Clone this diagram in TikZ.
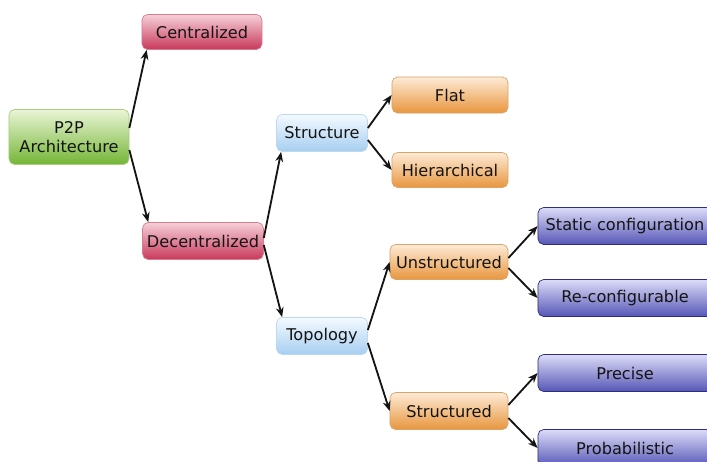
\documentclass[tikz,border=0pt]{standalone}
\usepackage{fontspec}
\setmainfont{DejaVu Sans}
\usepackage{tikz}
\usetikzlibrary{calc, arrows.meta}

\definecolor{greenTop}{HTML}{EAF5D6}
\definecolor{greenBot}{HTML}{74B536}
\definecolor{greenLine}{HTML}{A9CC80}
\definecolor{redTop}{HTML}{F6D0D8}
\definecolor{redBot}{HTML}{C8385A}
\definecolor{redLine}{HTML}{D87C90}
\definecolor{skyTop}{HTML}{F4FAFF}
\definecolor{skyBot}{HTML}{A6CEF0}
\definecolor{skyLine}{HTML}{BCD9F0}
\definecolor{orangeTop}{HTML}{FDEBD6}
\definecolor{orangeBot}{HTML}{E8963E}
\definecolor{orangeLine}{HTML}{D9A468}
\definecolor{purpleTop}{HTML}{DCDCF8}
\definecolor{purpleBot}{HTML}{5656B6}
\definecolor{purpleLine}{HTML}{2E2E80}

\begin{document}
\begin{tikzpicture}[x=0.025cm, y=-0.025cm,
        box/.style={rounded corners=4pt, line width=0.5pt, align=center,
            text=black!92, inner sep=0pt,
            font=\fontsize{11.5}{14}\selectfont},
        rootbox/.style={box, draw=greenLine, top color=greenTop, bottom color=greenBot},
        modebox/.style={box, draw=redLine, top color=redTop, bottom color=redBot},
        aspectbox/.style={box, draw=skyLine, top color=skyTop, bottom color=skyBot},
        kindbox/.style={box, draw=orangeLine, top color=orangeTop, bottom color=orangeBot},
        leafbox/.style={box, draw=purpleLine, top color=purpleTop, bottom color=purpleBot},
        link/.style={-{Stealth[length=7pt, width=5.5pt]}, line width=1.3pt, black!92}]
        \useasboundingbox (0,0) rectangle (707,461);

        % Draw the root
        \node[rootbox, minimum width=3cm, minimum height=1.375cm] (p2p) at (69,137) {P2P\\Architecture};

        % Draw the two kinds of architecture
        \node[modebox, minimum width=3cm, minimum height=0.875cm] (cent) at (202,32) {Centralized};
        \node[modebox, minimum width=3.02cm, minimum height=0.925cm] (decent) at (203,241) {Decentralized};

        % Draw structure and topology
        \node[aspectbox, minimum width=2.275cm, minimum height=0.925cm] (struct) at (322,133) {Structure};
        \node[aspectbox, minimum width=2.275cm, minimum height=0.925cm] (topo) at (322,336) {Topology};

        % Draw the orange boxes
        \node[kindbox, minimum width=2.9cm, minimum height=0.9cm] (flat) at (450,95) {Flat};
        \node[kindbox, minimum width=2.9cm, minimum height=0.875cm] (hier) at (450,170) {Hierarchical};
        \node[kindbox, minimum width=2.95cm, minimum height=0.875cm] (unstr) at (449,262) {Unstructured};
        \node[kindbox, minimum width=2.95cm, minimum height=0.925cm] (str) at (449,411) {Structured};

        % Draw the leaves (cut at the right edge)
        \node[leafbox, minimum width=4.35cm, minimum height=0.925cm] (static) at (625,226) {Static configuration};
        \node[leafbox, minimum width=4.35cm, minimum height=0.925cm] (reconf) at (625,298) {Re-configurable};
        \node[leafbox, minimum width=4.35cm, minimum height=0.925cm] (precise) at (625,373) {Precise};
        \node[leafbox, minimum width=4.35cm, minimum height=0.925cm] (prob) at (625,448) {Probabilistic};

        % Draw the arrows
        \draw[link] ($(p2p.east)+(0,-9)$) -- ($(cent.south west)+(5,0)$);
        \draw[link] ($(p2p.east)+(0,13)$) -- ($(decent.north west)+(6,0)$);
        \draw[link] ($(decent.east)+(0,-3)$) -- ($(struct.south west)+(5,0)$);
        \draw[link] ($(decent.east)+(0,4)$) -- ($(topo.north west)+(6,0)$);
        \draw[link] ($(struct.east)+(0,-5)$) -- (flat.west);
        \draw[link] ($(struct.east)+(0,7)$) -- (hier.west);
        \draw[link] ($(topo.east)+(0,-6)$) -- (unstr.west);
        \draw[link] ($(topo.east)+(0,7)$) -- (str.west);
        \draw[link] ($(unstr.east)+(0,-4)$) -- (static.west);
        \draw[link] ($(unstr.east)+(0,6)$) -- (reconf.west);
        \draw[link] ($(str.east)+(0,-6)$) -- (precise.west);
        \draw[link] ($(str.east)+(0,7)$) -- (prob.west);
\end{tikzpicture}
\end{document}
